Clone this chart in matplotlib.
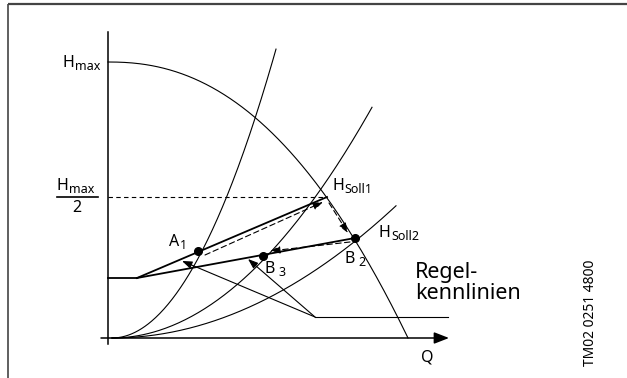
import numpy as np
import matplotlib.pyplot as plt

plt.rcParams['font.family'] = ['Noto Sans', 'DejaVu Sans']

# schematic units (1 unit ~ 1 px), origin at Q=0, H=0
h_max = 276
q_max = 300          # pump curve hits H=0 here
pump_exp = 2.25

# operating points
pt_A1 = (90, 87)
pt_B3 = (155, 82)
pt_B2 = (247, 100)
pt_Hsoll1 = (219, 141)
knee = (29, 60)      # start of both control curves

# end of each system curve (Q)
sys_points = [pt_A1, pt_B3, pt_B2]
sys_q_end = [164, 260, 284]

# thin lines meeting at the lower corner
corner = (207, 21)
thin_ends = [(74, 77), (140, 79)]
flat_end_q = 340

# dashed arrows (start, end)
dash_arrows = [((97, 83), (215, 136)),
               ((221, 135), (240, 105)),
               ((242, 96), (162, 87))]

fig = plt.figure(figsize=(6.27, 3.78), dpi=100)
ax = fig.add_axes([0, 0, 1, 1])
ax.set_xlim(-108, 519)
ax.set_ylim(-40, 338)
ax.axis('off')

FS = 11.5
FS_SUB = 9


def sub_label(x, y, base, sub, gap=0.3, ha='left'):
    if ha == 'left':
        t = ax.text(x, y, base, ha='left', va='baseline', fontsize=FS)
        ax.annotate(sub, xy=(1, 0), xycoords=t, xytext=(gap, -1.3),
                    textcoords='offset points', ha='left', va='bottom',
                    fontsize=FS_SUB)
    else:
        s = ax.text(x, y - 3, sub, ha='right', va='baseline', fontsize=FS_SUB)
        ax.annotate(base, xy=(0, 0), xycoords=s, xytext=(-gap, 1.3),
                    textcoords='offset points', ha='right', va='bottom',
                    fontsize=FS)


# frame
ax.plot([-100, 519], [334, 334], color='#444444', lw=1.6, solid_capstyle='butt')
ax.plot([-100, -100], [334, -40], color='#444444', lw=1.2, solid_capstyle='butt')

# axes
ax.plot([0, 0], [306, -6], color='black', lw=1.1)
ax.annotate('', xy=(flat_end_q + 1, 0), xytext=(-7, 0),
            arrowprops=dict(arrowstyle='-|>,head_length=0.9,head_width=0.35',
                            color='black', lw=1.1, shrinkA=0, shrinkB=0))

# pump curve
q = np.linspace(0, q_max, 200)
ax.plot(q, h_max * (1 - (q / q_max) ** pump_exp), color='black', lw=0.8)

# system curves through the operating points
for (qp, hp), qe in zip(sys_points, sys_q_end):
    k = hp / qp ** 2
    qq = np.linspace(0, qe, 200)
    ax.plot(qq + 4, k * qq ** 2, color='black', lw=0.8)

# H_max / 2 dashed line
ax.plot([0, pt_Hsoll1[0]], [pt_Hsoll1[1], pt_Hsoll1[1]], color='black',
        lw=0.8, ls=(0, (4, 3)))

# control curves
ax.plot([0, knee[0]], [knee[1], knee[1]], color='black', lw=1.3)
for end in [pt_Hsoll1, pt_B2]:
    ax.plot([knee[0], end[0]], [knee[1], end[1]], color='black', lw=1.3)

# thin lines with arrows
ax.plot([corner[0], flat_end_q], [corner[1], corner[1]], color='black', lw=0.8)
for end in thin_ends:
    ax.annotate('', xy=end, xytext=corner,
                arrowprops=dict(arrowstyle='-|>,head_length=0.6,head_width=0.22',
                                color='black', lw=0.8, shrinkA=0, shrinkB=0))

# dashed arrows
for start, end in dash_arrows:
    ax.annotate('', xy=end, xytext=start,
                arrowprops=dict(arrowstyle='-|>,head_length=0.6,head_width=0.22',
                                color='black', lw=0.8, ls=(0, (5, 3)),
                                shrinkA=0, shrinkB=0))

# operating point dots
for p in [pt_A1, pt_B3, pt_B2]:
    ax.plot(*p, 'o', color='black', ms=5.5)

# labels
sub_label(-8, 271, 'H', 'max', ha='right')
sub_label(-51, 148, 'H', 'max')
ax.plot([-51, -10], [141, 141], color='black', lw=1.2)
ax.text(-31, 130, '2', ha='center', va='center', fontsize=FS)
sub_label(61, 92, 'A', '1')
sub_label(224, 148, 'H', 'Soll1')
sub_label(271, 101, 'H', 'Soll2')
sub_label(237, 75, 'B', '2', gap=2.5)
sub_label(157, 65, 'B', '3', gap=2.5)
ax.text(319, -20, 'Q', ha='center', va='center', fontsize=FS)
ax.text(307, 55, 'Regel-\nkennlinien', ha='left', va='center', fontsize=15.5,
        linespacing=1.0)
ax.text(483, 25, 'TM02 0251 4800', ha='center', va='center', fontsize=10,
        rotation=90)

fig.savefig('out.png', dpi=100)
